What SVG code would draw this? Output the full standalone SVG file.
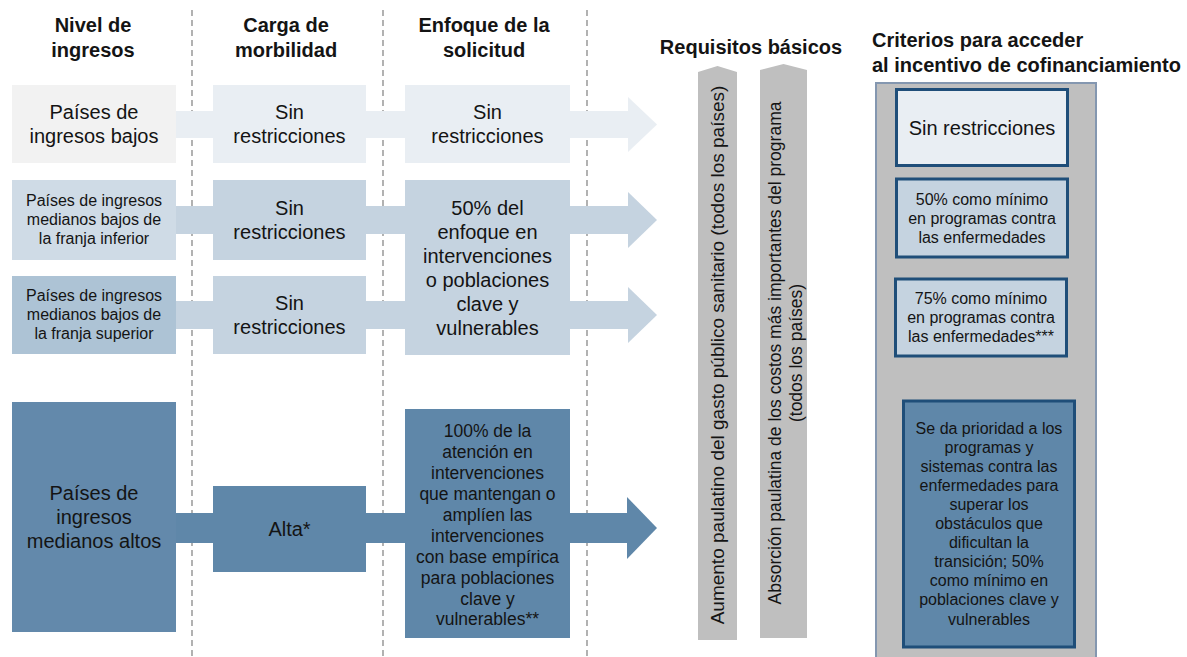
<svg xmlns="http://www.w3.org/2000/svg" width="1187" height="657" viewBox="0 0 1187 657">
<style>
text{font-family:"Liberation Sans",Arial,sans-serif;fill:#141414;text-anchor:middle}
.h{font-weight:bold;font-size:20px}
.t20{font-size:20px}
.t16{font-size:16px}
.t17{font-size:17.5px}
.dash{stroke:#7f7f7f;stroke-width:1.2;stroke-dasharray:6 4;fill:none}
.c1{fill:#e9eef3}
.c2{fill:#c5d3e0}
.c4{fill:#5f87a9}
.crit{stroke:#1f4e79;stroke-width:3}
.col{fill:#bfbfbf}
</style>
<rect width="1187" height="657" fill="#ffffff"/>

<g id="dividers">
<line class="dash" x1="192" y1="10" x2="192" y2="657"/>
<line class="dash" x1="383" y1="10" x2="383" y2="657"/>
<line class="dash" x1="587" y1="10" x2="587" y2="657"/>
</g>

<g id="headers">
<text class="h" x="93" y="32">Nivel de</text>
<text class="h" x="93" y="57">ingresos</text>
<text class="h" x="286" y="32">Carga de</text>
<text class="h" x="286" y="57">morbilidad</text>
<text class="h" x="484" y="32">Enfoque de la</text>
<text class="h" x="484" y="57">solicitud</text>
<text class="h" x="751" y="54">Requisitos básicos</text>
<text class="h" x="872" y="47" style="text-anchor:start">Criterios para acceder</text>
<text class="h" x="872" y="72" style="text-anchor:start">al incentivo de cofinanciamiento</text>
</g>

<g id="connectors">
<rect class="c1" x="150" y="111" width="480" height="27"/>
<polygon class="c1" points="628,97 657,124.5 628,152"/>
<rect class="c2" x="150" y="206" width="480" height="28"/>
<polygon class="c2" points="628,192 657,220 628,248"/>
<rect class="c2" x="150" y="301" width="480" height="28"/>
<polygon class="c2" points="628,287 657,315 628,343"/>
<rect class="c4" x="150" y="513" width="480" height="30"/>
<polygon class="c4" points="627,497 657,528 627,559"/>
</g>

<g id="low-income">
<rect x="12" y="85" width="164" height="78" fill="#f2f2f2"/>
<text class="t20" x="94" y="119">Países de</text>
<text class="t20" x="94" y="143">ingresos bajos</text>
</g>
<g id="low-burden">
<rect class="c1" x="213" y="85" width="153" height="78"/>
<text class="t20" x="289.5" y="119">Sin</text>
<text class="t20" x="289.5" y="143">restricciones</text>
</g>
<g id="low-focus">
<rect class="c1" x="405" y="85" width="165" height="78"/>
<text class="t20" x="487.5" y="119">Sin</text>
<text class="t20" x="487.5" y="143">restricciones</text>
</g>

<g id="lmi-lower">
<rect x="12" y="180" width="164" height="80" fill="#cfdbe6"/>
<text class="t16" x="94" y="206">Países de ingresos</text>
<text class="t16" x="94" y="225">medianos bajos de</text>
<text class="t16" x="94" y="244">la franja inferior</text>
</g>
<g id="lmi-lower-burden">
<rect class="c2" x="213" y="180" width="153" height="80"/>
<text class="t20" x="289.5" y="215">Sin</text>
<text class="t20" x="289.5" y="239">restricciones</text>
</g>
<g id="lmi-focus">
<rect class="c2" x="405" y="180" width="165" height="175"/>
<text class="t20" x="487.5" y="215">50% del</text>
<text class="t20" x="487.5" y="239">enfoque en</text>
<text class="t20" x="487.5" y="263">intervenciones</text>
<text class="t20" x="487.5" y="287">o poblaciones</text>
<text class="t20" x="487.5" y="311">clave y</text>
<text class="t20" x="487.5" y="335">vulnerables</text>
</g>

<g id="lmi-upper">
<rect x="12" y="276" width="164" height="78" fill="#adc3d5"/>
<text class="t16" x="94" y="301">Países de ingresos</text>
<text class="t16" x="94" y="320">medianos bajos de</text>
<text class="t16" x="94" y="339">la franja superior</text>
</g>
<g id="lmi-upper-burden">
<rect class="c2" x="213" y="276" width="153" height="78"/>
<text class="t20" x="289.5" y="310">Sin</text>
<text class="t20" x="289.5" y="334">restricciones</text>
</g>

<g id="umi">
<rect x="12" y="402" width="164" height="230" fill="#6389ab"/>
<text class="t20" x="94" y="500">Países de</text>
<text class="t20" x="94" y="524">ingresos</text>
<text class="t20" x="94" y="548">medianos altos</text>
</g>
<g id="umi-burden">
<rect class="c4" x="213" y="486" width="153" height="86"/>
<text class="t20" x="289.5" y="536">Alta*</text>
</g>
<g id="umi-focus">
<rect class="c4" x="405" y="409" width="165" height="229"/>
<text class="t17" x="487.5" y="437">100% de la</text>
<text class="t17" x="487.5" y="458">atención en</text>
<text class="t17" x="487.5" y="479">intervenciones</text>
<text class="t17" x="487.5" y="500">que mantengan o</text>
<text class="t17" x="487.5" y="521">amplíen las</text>
<text class="t17" x="487.5" y="541.5">intervenciones</text>
<text class="t17" x="487.5" y="562.5">con base empírica</text>
<text class="t17" x="487.5" y="583.5">para poblaciones</text>
<text class="t17" x="487.5" y="604.5">clave y</text>
<text class="t17" x="487.5" y="625">vulnerables**</text>
</g>

<g id="req-spending">
<polygon class="col" points="698,72 717.5,66 737,72 737,640 698,640"/>
<text style="font-size:19px" transform="translate(724,355) rotate(-90)">Aumento paulatino del gasto público sanitario (todos los países)</text>
</g>
<g id="req-costs">
<polygon class="col" points="760,70 783.5,64 807,70 807,638 760,638"/>
<text style="font-size:17.5px" transform="translate(781,353) rotate(-90)">Absorción paulatina de los costos más importantes del programa</text>
<text style="font-size:17.5px" transform="translate(802,353) rotate(-90)">(todos los países)</text>
</g>

<g id="criteria-panel">
<rect x="876" y="83" width="220" height="590" fill="#bfbfbf" stroke="#8497b0" stroke-width="2"/>
</g>
<g id="crit-1">
<rect class="c1 crit" x="896.5" y="89.5" width="171" height="76"/>
<text class="t20" x="982" y="134.5">Sin restricciones</text>
</g>
<g id="crit-2">
<rect class="c2 crit" x="896.5" y="179" width="171" height="78"/>
<text class="t16" x="982" y="205">50% como mínimo</text>
<text class="t16" x="982" y="224">en programas contra</text>
<text class="t16" x="982" y="243">las enfermedades</text>
</g>
<g id="crit-3">
<rect class="c2 crit" x="895.5" y="279" width="171" height="77"/>
<text class="t16" x="981" y="304">75% como mínimo</text>
<text class="t16" x="981" y="323">en programas contra</text>
<text class="t16" x="981" y="342">las enfermedades***</text>
</g>
<g id="crit-4">
<rect class="c4 crit" x="903.5" y="401" width="171" height="246"/>
<text class="t16" x="989" y="433.5">Se da prioridad a los</text>
<text class="t16" x="989" y="452.6">programas y</text>
<text class="t16" x="989" y="471.7">sistemas contra las</text>
<text class="t16" x="989" y="490.8">enfermedades para</text>
<text class="t16" x="989" y="509.9">superar los</text>
<text class="t16" x="989" y="529">obstáculos que</text>
<text class="t16" x="989" y="548.1">dificultan la</text>
<text class="t16" x="989" y="567.2">transición; 50%</text>
<text class="t16" x="989" y="586.3">como mínimo en</text>
<text class="t16" x="989" y="605.4">poblaciones clave y</text>
<text class="t16" x="989" y="624.5">vulnerables</text>
</g>
</svg>
